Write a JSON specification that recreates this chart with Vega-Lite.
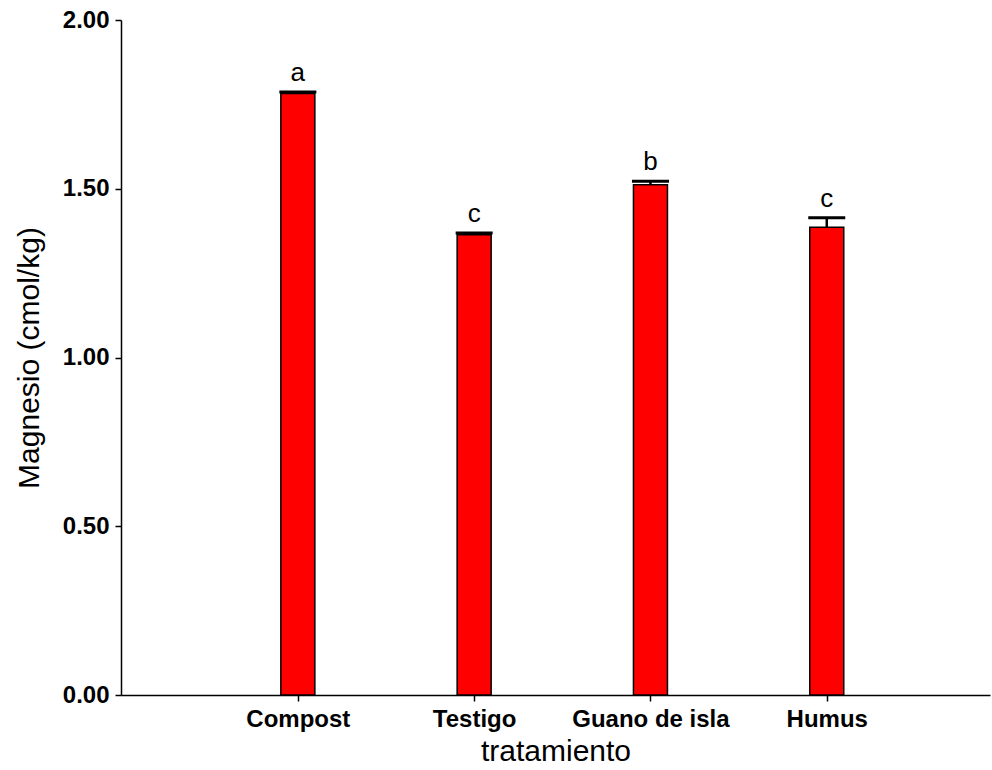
{
  "$schema": "https://vega.github.io/schema/vega-lite/v6.json",
  "width": 869,
  "height": 675,
  "autosize": {"type": "none"},
  "padding": {"left": 121, "top": 20, "right": 2, "bottom": 75},
  "background": "white",
  "config": {
    "view": {"stroke": null},
    "font": "Liberation Sans",
    "axis": {
      "grid": false,
      "domainColor": "black",
      "domainWidth": 1.5,
      "tickColor": "black",
      "tickWidth": 1.5,
      "labelColor": "black",
      "titleColor": "black"
    }
  },
  "data": {
    "values": [
      {"tratamiento": "Compost", "media": 1.782, "sup": 1.787, "letra": "a"},
      {"tratamiento": "Testigo", "media": 1.364, "sup": 1.369, "letra": "c"},
      {"tratamiento": "Guano de isla", "media": 1.512, "sup": 1.522, "letra": "b"},
      {"tratamiento": "Humus", "media": 1.386, "sup": 1.414, "letra": "c"}
    ]
  },
  "encoding": {
    "x": {
      "field": "tratamiento",
      "type": "nominal",
      "sort": null,
      "scale": {"type": "point", "padding": 0.9645, "align": 0.52},
      "axis": {
        "title": "tratamiento",
        "labelAngle": 0,
        "labelFontSize": 24,
        "labelFontWeight": "bold",
        "labelPadding": 6,
        "tickSize": 6,
        "titleFontSize": 30,
        "titleFontWeight": "normal",
        "titlePadding": 5
      }
    }
  },
  "layer": [
    {
      "mark": {"type": "bar", "width": 34, "fill": "#ff0000", "stroke": "black", "strokeWidth": 1.5, "opacity": 1},
      "encoding": {
        "y": {
          "field": "media",
          "type": "quantitative",
          "scale": {"domain": [0, 2], "nice": false, "zero": true},
          "axis": {
            "title": "Magnesio (cmol/kg)",
            "values": [0, 0.5, 1, 1.5, 2],
            "format": ".2f",
            "labelFontSize": 24,
            "labelFontWeight": "bold",
            "labelPadding": 6,
            "tickSize": 6,
            "titleFontSize": 30,
            "titleFontWeight": "normal",
            "titlePadding": 18
          }
        }
      }
    },
    {
      "mark": {"type": "rule", "color": "black", "strokeWidth": 2.5},
      "encoding": {
        "y": {"field": "media", "type": "quantitative"},
        "y2": {"field": "sup"}
      }
    },
    {
      "mark": {"type": "tick", "color": "black", "thickness": 3, "size": 37, "orient": "horizontal", "opacity": 1},
      "encoding": {
        "y": {"field": "sup", "type": "quantitative"}
      }
    },
    {
      "mark": {"type": "text", "baseline": "alphabetic", "dy": -11, "fontSize": 26, "color": "black"},
      "encoding": {
        "y": {"field": "sup", "type": "quantitative"},
        "text": {"field": "letra"}
      }
    }
  ]
}
